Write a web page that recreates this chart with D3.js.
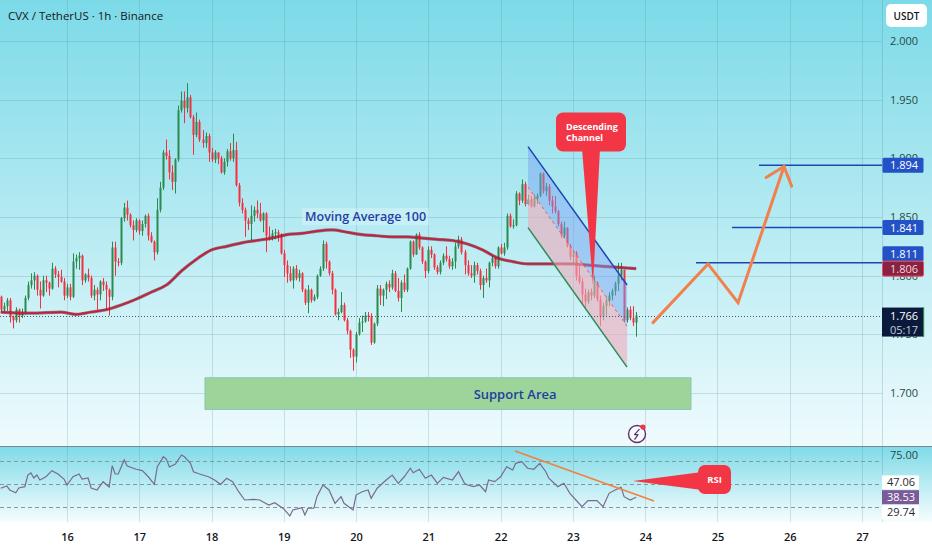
<!DOCTYPE html>
<html>
<head>
<meta charset="utf-8">
<title>CVX / TetherUS 1h</title>
<script src="https://cdn.jsdelivr.net/npm/d3@7/dist/d3.min.js"></script>
<style>
    html, body { margin: 0; padding: 0; background: #ffffff; }
    #chart { display: block; font-family: "Open Sans", Roboto, sans-serif; }
</style>
</head>
<body>
<svg id="chart" width="932" height="550"></svg>
<script>
'use strict';

// ---- values ----

// hourly candles, the first one starts on the 15th at 02:00, each opens at the previous close
const startDay = 15;
const startHour = 2;
const firstOpen = 1.782;

const closes = [
    1.771, 1.774, 1.779, 1.765, 1.762, 1.771, 1.766, 1.769, 1.781, 1.792,
    1.796, 1.800, 1.788, 1.783, 1.796, 1.794, 1.789, 1.806, 1.801, 1.799,
    1.795, 1.783, 1.790, 1.782, 1.812, 1.815, 1.817, 1.796, 1.801, 1.798,
    1.783, 1.788, 1.784, 1.795, 1.792, 1.788, 1.782, 1.824, 1.812, 1.811,
    1.849, 1.858, 1.852, 1.843, 1.839, 1.847, 1.838, 1.844, 1.851, 1.834,
    1.829, 1.820, 1.856, 1.875, 1.905, 1.902, 1.888, 1.880, 1.899, 1.941,
    1.949, 1.943, 1.952, 1.935, 1.920, 1.931, 1.916, 1.913, 1.919, 1.905,
    1.899, 1.905, 1.900, 1.888, 1.897, 1.906, 1.900, 1.907, 1.877, 1.862,
    1.856, 1.847, 1.844, 1.851, 1.856, 1.853, 1.847, 1.853, 1.834, 1.833,
    1.836, 1.837, 1.835, 1.819, 1.809, 1.802, 1.796, 1.806, 1.798, 1.802,
    1.788, 1.777, 1.788, 1.779, 1.782, 1.800, 1.806, 1.827, 1.812, 1.802,
    1.788, 1.767, 1.769, 1.775, 1.762, 1.753, 1.737, 1.731, 1.750, 1.760,
    1.761, 1.766, 1.765, 1.743, 1.759, 1.789, 1.783, 1.788, 1.793, 1.790,
    1.802, 1.787, 1.781, 1.794, 1.788, 1.806, 1.829, 1.818, 1.835, 1.824,
    1.812, 1.804, 1.822, 1.818, 1.807, 1.803, 1.811, 1.817, 1.814, 1.808,
    1.812, 1.825, 1.831, 1.820, 1.809, 1.802, 1.800, 1.809, 1.804, 1.792,
    1.798, 1.796, 1.811, 1.815, 1.808, 1.824, 1.819, 1.824, 1.851, 1.842,
    1.843, 1.870, 1.864, 1.878, 1.861, 1.865, 1.859, 1.866, 1.868, 1.887,
    1.872, 1.876, 1.864, 1.859, 1.855, 1.844, 1.834, 1.841, 1.825, 1.816,
    1.819, 1.800, 1.795, 1.784, 1.778, 1.786, 1.783, 1.794, 1.780, 1.765,
    1.774, 1.779, 1.783, 1.787, 1.793, 1.800, 1.805, 1.762, 1.771, 1.764,
    1.760, 1.766
];

const highs = [
    1.783, 1.777, 1.781, 1.781, 1.766, 1.773, 1.772, 1.772, 1.783, 1.795,
    1.802, 1.803, 1.801, 1.795, 1.800, 1.800, 1.795, 1.811, 1.808, 1.804,
    1.805, 1.798, 1.793, 1.793, 1.819, 1.818, 1.820, 1.818, 1.802, 1.806,
    1.800, 1.792, 1.790, 1.796, 1.798, 1.795, 1.789, 1.829, 1.829, 1.815,
    1.850, 1.862, 1.864, 1.853, 1.847, 1.849, 1.848, 1.847, 1.852, 1.853,
    1.837, 1.830, 1.866, 1.880, 1.907, 1.916, 1.907, 1.894, 1.900, 1.945,
    1.957, 1.957, 1.964, 1.954, 1.937, 1.939, 1.933, 1.924, 1.922, 1.921,
    1.909, 1.907, 1.905, 1.902, 1.900, 1.908, 1.913, 1.921, 1.914, 1.879,
    1.866, 1.858, 1.849, 1.860, 1.859, 1.864, 1.862, 1.854, 1.854, 1.842,
    1.839, 1.840, 1.839, 1.836, 1.822, 1.813, 1.808, 1.808, 1.809, 1.805,
    1.803, 1.789, 1.792, 1.789, 1.784, 1.801, 1.808, 1.830, 1.829, 1.813,
    1.804, 1.789, 1.772, 1.786, 1.777, 1.764, 1.754, 1.738, 1.752, 1.764,
    1.766, 1.769, 1.769, 1.768, 1.760, 1.792, 1.792, 1.789, 1.795, 1.796,
    1.805, 1.804, 1.798, 1.796, 1.801, 1.807, 1.830, 1.830, 1.836, 1.837,
    1.825, 1.813, 1.825, 1.825, 1.819, 1.809, 1.813, 1.819, 1.825, 1.817,
    1.815, 1.828, 1.834, 1.833, 1.822, 1.813, 1.809, 1.812, 1.811, 1.806,
    1.800, 1.806, 1.812, 1.818, 1.817, 1.825, 1.827, 1.828, 1.853, 1.853,
    1.848, 1.872, 1.871, 1.882, 1.880, 1.869, 1.868, 1.869, 1.870, 1.888,
    1.888, 1.879, 1.878, 1.868, 1.868, 1.856, 1.846, 1.846, 1.841, 1.827,
    1.822, 1.821, 1.809, 1.798, 1.789, 1.788, 1.789, 1.800, 1.795, 1.783,
    1.777, 1.782, 1.786, 1.789, 1.795, 1.811, 1.811, 1.805, 1.773, 1.774,
    1.774, 1.769
];

const lows = [
    1.769, 1.769, 1.770, 1.760, 1.755, 1.760, 1.760, 1.764, 1.767, 1.779,
    1.789, 1.788, 1.783, 1.772, 1.782, 1.786, 1.783, 1.788, 1.798, 1.790,
    1.794, 1.779, 1.781, 1.779, 1.781, 1.806, 1.805, 1.792, 1.794, 1.795,
    1.781, 1.779, 1.771, 1.779, 1.787, 1.771, 1.766, 1.779, 1.800, 1.808,
    1.809, 1.846, 1.847, 1.841, 1.830, 1.837, 1.835, 1.834, 1.841, 1.830,
    1.828, 1.813, 1.818, 1.854, 1.873, 1.899, 1.882, 1.873, 1.870, 1.897,
    1.939, 1.930, 1.939, 1.934, 1.903, 1.918, 1.914, 1.909, 1.909, 1.897,
    1.897, 1.896, 1.895, 1.887, 1.886, 1.893, 1.898, 1.897, 1.876, 1.859,
    1.853, 1.833, 1.839, 1.830, 1.846, 1.849, 1.846, 1.837, 1.820, 1.830,
    1.830, 1.831, 1.829, 1.818, 1.799, 1.794, 1.795, 1.789, 1.796, 1.795,
    1.786, 1.775, 1.768, 1.777, 1.778, 1.780, 1.799, 1.804, 1.806, 1.800,
    1.784, 1.766, 1.762, 1.768, 1.761, 1.750, 1.730, 1.719, 1.726, 1.749,
    1.752, 1.760, 1.761, 1.741, 1.742, 1.757, 1.775, 1.774, 1.780, 1.786,
    1.788, 1.786, 1.778, 1.769, 1.786, 1.786, 1.805, 1.816, 1.818, 1.822,
    1.810, 1.798, 1.802, 1.815, 1.805, 1.801, 1.801, 1.809, 1.812, 1.806,
    1.805, 1.806, 1.823, 1.818, 1.801, 1.800, 1.798, 1.794, 1.801, 1.788,
    1.781, 1.794, 1.790, 1.808, 1.806, 1.806, 1.818, 1.817, 1.822, 1.841,
    1.840, 1.842, 1.860, 1.862, 1.859, 1.860, 1.858, 1.858, 1.861, 1.867,
    1.870, 1.868, 1.860, 1.853, 1.853, 1.842, 1.832, 1.832, 1.824, 1.813,
    1.811, 1.796, 1.793, 1.775, 1.772, 1.776, 1.779, 1.781, 1.778, 1.757,
    1.762, 1.766, 1.774, 1.779, 1.783, 1.787, 1.796, 1.760, 1.760, 1.762,
    1.757, 1.748
];

// moving average 100, read at these candle indexes
const maIdx = [0, 10, 20, 25, 30, 35, 40, 45, 50, 55, 60, 65, 70, 75, 80, 85, 90, 95, 100, 105,
    110, 115, 120, 125, 130, 135, 140, 145, 150, 155, 160, 165, 170, 175, 180, 185, 190, 195, 200, 205, 211];
const maVal = [1.769, 1.768, 1.769, 1.767, 1.769, 1.771, 1.775, 1.780, 1.786, 1.792, 1.804, 1.814, 1.822, 1.825,
    1.828, 1.830, 1.832, 1.835, 1.836, 1.838, 1.839, 1.837, 1.835, 1.834, 1.833, 1.833, 1.832, 1.831, 1.830,
    1.827, 1.822, 1.815, 1.812, 1.810, 1.810, 1.810, 1.810, 1.809, 1.808, 1.807, 1.806];

// RSI, read at these candle indexes
const rsiIdx = [0, 2, 3, 5, 6, 8, 9, 10, 11, 12, 13, 15, 17, 19, 21, 22, 24, 26, 27, 29,
    30, 32, 34, 36, 37, 38, 39, 41, 42, 45, 47, 49, 51, 52, 54, 55, 56, 58, 60, 61,
    63, 64, 66, 69, 71, 73, 75, 77, 79, 81, 84, 86, 89, 91, 94, 96, 97, 100, 101, 102,
    104, 105, 107, 109, 111, 113, 114, 117, 118, 120, 122, 123, 125, 128, 130, 132, 134, 136, 137, 139,
    141, 143, 145, 147, 150, 152, 154, 155, 157, 159, 161, 162, 164, 166, 168, 170, 171, 173, 175, 177,
    179, 181, 182, 185, 187, 189, 191, 193, 195, 198, 200, 202, 204, 206, 207, 209, 211];
const rsiVal = [46.3, 48.3, 44.8, 42.4, 46.5, 47.7, 57.8, 59.6, 55.2, 57.8, 53.5, 56.3, 61.6, 58.7, 54.3, 49.1, 56.3, 58.7, 54.3, 55.2,
    46.5, 44.8, 52.0, 47.4, 65.9, 58.7, 58.7, 70.9, 65.7, 62.8, 61.6, 56.3, 49.7, 65.0, 73.7, 71.7, 64.8, 67.4, 75.2, 73.7,
    68.0, 60.7, 58.7, 56.3, 53.5, 49.7, 55.0, 52.0, 43.3, 36.1, 36.7, 36.1, 31.7, 33.7, 28.3, 22.2, 27.4, 29.4, 23.0, 28.9,
    28.9, 39.0, 49.1, 44.8, 33.2, 39.0, 33.2, 27.4, 40.4, 43.3, 44.8, 37.6, 46.3, 53.5, 57.8, 50.6, 56.3, 63.7, 59.8, 62.8,
    55.0, 57.8, 50.6, 55.8, 53.5, 60.7, 50.6, 49.1, 47.7, 49.1, 43.3, 53.5, 52.0, 56.3, 65.0, 62.2, 68.0, 69.4, 63.7, 62.8,
    68.0, 60.7, 55.0, 47.7, 50.6, 41.9, 36.1, 30.3, 35.5, 35.5, 30.3, 41.9, 44.8, 47.1, 39.0, 36.1, 38.53];

// axis ticks
const days = [16, 17, 18, 19, 20, 21, 22, 23, 24, 25, 26, 27];
const priceTicks = [1.700, 1.750, 1.800, 1.850, 1.900, 1.950, 2.000];
const rsiTicks = [75];
const rsiLevels = [30, 50, 70];

// drawings (day of month, price)
const lastPrice = 1.766;
const countdown = '05:17';
const targetLevels = [1.894, 1.841, 1.811];
const targetStartDays = [25.575, 25.201, 24.703];
const pathDays = [24.108, 24.869, 25.285, 25.921];
const pathPrices = [1.760, 1.810, 1.777, 1.893];
const channelDays = [22.379, 23.749];
const channelUpper = [1.910, 1.792];
const channelLower = [1.841, 1.722];
const supportDays = [17.909, 24.634];
const supportPrices = [1.686, 1.713];
const rsiTrendDays = [22.199, 24.122];
const rsiTrendVals = [78.7, 35.2];
const rsiSideValues = [47.06, 38.53, 29.74];

(function() {
    const svg = d3.select('#chart');

    const W = 932, H = 550;
    const plotRight = 882;
    const mainBottom = 446, rsiTop = 447, rsiBottom = 522;

    const upColor = '#2b8a4e', downColor = '#f2303f';
    const gridColor = 'rgba(80, 130, 145, 0.22)';
    const axisText = '#2a4a3f';

    const x = d3.scaleLinear().domain([16, 27]).range([67, 862]);
    const y = d3.scaleLinear().domain([1.7, 2.0]).range([393, 41]);
    const yRsi = d3.scaleLinear().domain([30, 70]).range([507, 461]);
    const fmt3 = d3.format('.3f');
    const fmt2 = d3.format('.2f');

    // time of candle i as a fractional day of month
    function dayOf(i) {
        return startDay + (startHour + i) / 24;
    }

    const candles = closes.map(function(c, i) {
        const o = i === 0 ? firstOpen : closes[i - 1];
        return { t: dayOf(i), o: o, c: c, h: Math.max(highs[i], o, c), l: Math.min(lows[i], o, c) };
    });

    // ---- backgrounds ----
    const defs = svg.append('defs');
    addGradient('mainGrad', 0, mainBottom, '#7cdae8', '#effbfd');
    addGradient('rsiGrad', rsiTop, rsiBottom, '#7fdbe8', '#f6fdfe');

    defs.append('clipPath').attr('id', 'mainClip')
        .append('rect').attr('x', 0).attr('y', 0).attr('width', plotRight).attr('height', mainBottom);
    defs.append('clipPath').attr('id', 'rsiClip')
        .append('rect').attr('x', 0).attr('y', rsiTop).attr('width', plotRight).attr('height', rsiBottom - rsiTop);

    svg.append('rect').attr('width', W).attr('height', H).attr('fill', '#ffffff');
    svg.append('rect').attr('width', W).attr('height', mainBottom).attr('fill', 'url(#mainGrad)');
    svg.append('rect').attr('y', rsiTop).attr('width', W).attr('height', rsiBottom - rsiTop).attr('fill', 'url(#rsiGrad)');

    // ---- grid ----
    const grid = svg.append('g');
    grid.selectAll('line.v').data(days).enter().append('line')
        .attr('x1', d => Math.round(x(d)) + 0.5).attr('x2', d => Math.round(x(d)) + 0.5)
        .attr('y1', 0).attr('y2', rsiBottom)
        .attr('stroke', gridColor);
    grid.selectAll('line.h').data(priceTicks).enter().append('line')
        .attr('x1', 0).attr('x2', plotRight)
        .attr('y1', d => Math.round(y(d)) + 0.5).attr('y2', d => Math.round(y(d)) + 0.5)
        .attr('stroke', gridColor);

    const main = svg.append('g').attr('clip-path', 'url(#mainClip)');

    // ---- support area ----
    const sx0 = x(supportDays[0]), sx1 = x(supportDays[1]);
    const sy0 = y(supportPrices[1]), sy1 = y(supportPrices[0]);
    main.append('rect')
        .attr('x', sx0).attr('y', sy0).attr('width', sx1 - sx0).attr('height', sy1 - sy0)
        .attr('fill', '#9dd49a').attr('stroke', '#8bc5b6').attr('stroke-width', 1);
    main.append('text')
        .attr('x', x(22.2)).attr('y', (sy0 + sy1) / 2 + 5)
        .attr('text-anchor', 'middle')
        .attr('font-size', '13px').attr('font-weight', 600)
        .attr('fill', '#1f3f9e')
        .text('Support Area');

    // ---- candles ----
    const gCandles = main.append('g');
    gCandles.selectAll('line').data(candles).enter().append('line')
        .attr('x1', d => Math.round(x(d.t)) + 0.5).attr('x2', d => Math.round(x(d.t)) + 0.5)
        .attr('y1', d => y(d.h)).attr('y2', d => y(d.l))
        .attr('stroke', d => d.c >= d.o ? upColor : downColor)
        .attr('stroke-width', 1);
    gCandles.selectAll('rect').data(candles).enter().append('rect')
        .attr('x', d => Math.round(x(d.t)) - 0.5)
        .attr('width', 2)
        .attr('y', d => y(Math.max(d.o, d.c)))
        .attr('height', d => Math.max(1, Math.abs(y(d.o) - y(d.c))))
        .attr('fill', d => d.c >= d.o ? upColor : downColor);

    // ---- moving average 100 ----
    const maLine = d3.line()
        .x(d => x(dayOf(d[0])))
        .y(d => y(d[1]))
        .curve(d3.curveMonotoneX);
    main.append('path')
        .datum(maIdx.map((k, j) => [k, maVal[j]]))
        .attr('d', maLine)
        .attr('fill', 'none')
        .attr('stroke', '#5a1024').attr('stroke-width', 3.2).attr('stroke-opacity', 0.55);
    main.append('path')
        .datum(maIdx.map((k, j) => [k, maVal[j]]))
        .attr('d', maLine)
        .attr('fill', 'none')
        .attr('stroke', '#c4203c').attr('stroke-width', 1.8);

    // label "Moving Average 100"
    const maLabelX = x(19.252), maLabelY = y(1.8576);
    const maBox = main.append('rect')
        .attr('x', maLabelX).attr('y', maLabelY).attr('height', 17)
        .attr('fill', 'rgba(235, 248, 252, 0.35)');
    const maText = main.append('text')
        .attr('x', maLabelX + 3).attr('y', maLabelY + 13)
        .attr('font-size', '12.5px').attr('font-weight', 600)
        .attr('fill', '#1f3fa6')
        .text('Moving Average 100');
    maBox.attr('width', maText.node().getComputedTextLength() + 6);

    // ---- descending channel ----
    const cx0 = x(channelDays[0]), cx1 = x(channelDays[1]);
    const up0 = y(channelUpper[0]), up1 = y(channelUpper[1]);
    const lo0 = y(channelLower[0]), lo1 = y(channelLower[1]);
    const mid0 = (up0 + lo0) / 2, mid1 = (up1 + lo1) / 2;
    main.append('polygon')
        .attr('points', [[cx0, up0], [cx1, up1], [cx1, mid1], [cx0, mid0]].join(' '))
        .attr('fill', 'rgba(120, 160, 245, 0.45)');
    main.append('polygon')
        .attr('points', [[cx0, mid0], [cx1, mid1], [cx1, lo1], [cx0, lo0]].join(' '))
        .attr('fill', 'rgba(240, 170, 186, 0.6)');
    main.append('line')
        .attr('x1', cx0).attr('y1', mid0).attr('x2', cx1).attr('y2', mid1)
        .attr('stroke', '#e5604e').attr('stroke-width', 1).attr('stroke-dasharray', '3,3');
    main.append('line')
        .attr('x1', cx0).attr('y1', up0).attr('x2', cx1).attr('y2', up1)
        .attr('stroke', '#1c44b4').attr('stroke-width', 1.5);
    main.append('line')
        .attr('x1', cx0).attr('y1', lo0).attr('x2', cx1).attr('y2', lo1)
        .attr('stroke', '#2f8a55').attr('stroke-width', 1.5);

    // ---- last price line ----
    main.append('line')
        .attr('x1', 0).attr('x2', plotRight)
        .attr('y1', Math.round(y(lastPrice)) + 0.5).attr('y2', Math.round(y(lastPrice)) + 0.5)
        .attr('stroke', '#4b5866').attr('stroke-width', 1).attr('stroke-dasharray', '1,2');

    // ---- target levels ----
    main.selectAll('line.target').data(targetLevels).enter().append('line')
        .attr('x1', (d, i) => x(targetStartDays[i])).attr('x2', plotRight)
        .attr('y1', d => y(d)).attr('y2', d => y(d))
        .attr('stroke', '#1f47b2').attr('stroke-width', 1.5);

    // ---- projected path with arrow head ----
    const pathPts = pathDays.map((d, i) => [x(d), y(pathPrices[i])]);
    main.append('path')
        .attr('d', d3.line()(pathPts))
        .attr('fill', 'none')
        .attr('stroke', '#f2804c').attr('stroke-width', 3)
        .attr('stroke-linejoin', 'miter').attr('stroke-linecap', 'round');
    const tip = pathPts[pathPts.length - 1], prev = pathPts[pathPts.length - 2];
    const back = Math.atan2(prev[1] - tip[1], prev[0] - tip[0]);
    const headLen = 21, headAng = 40 * Math.PI / 180;
    const head = [
        [tip[0] + headLen * Math.cos(back - headAng), tip[1] + headLen * Math.sin(back - headAng)],
        tip,
        [tip[0] + headLen * Math.cos(back + headAng), tip[1] + headLen * Math.sin(back + headAng)]
    ];
    main.append('path')
        .attr('d', d3.line()(head))
        .attr('fill', 'none')
        .attr('stroke', '#f2804c').attr('stroke-width', 3).attr('stroke-linecap', 'round');

    // ---- "Descending Channel" callout ----
    const dbx = x(22.766), dby = y(1.939), dbw = 70, dbh = 39;
    const dTip = [x(23.278), y(1.792)];
    main.append('polygon')
        .attr('points', [[dbx + 26, dby + dbh - 3], [dbx + 44, dby + dbh - 3], dTip].join(' '))
        .attr('fill', '#f23645');
    main.append('rect')
        .attr('x', dbx).attr('y', dby).attr('width', dbw).attr('height', dbh).attr('rx', 7)
        .attr('fill', '#f23645');
    main.append('text')
        .attr('x', dbx + 10).attr('y', dby + 17.5)
        .attr('font-size', '9px').attr('font-weight', 700).attr('fill', '#ffffff')
        .text('Descending');
    main.append('text')
        .attr('x', dbx + 10).attr('y', dby + 28)
        .attr('font-size', '9px').attr('font-weight', 700).attr('fill', '#ffffff')
        .text('Channel');

    // ---- lightning icon ----
    const lx = x(23.887), ly = y(1.665);
    main.append('circle')
        .attr('cx', lx).attr('cy', ly).attr('r', 8.5)
        .attr('fill', 'rgba(255,255,255,0.35)').attr('stroke', '#6a2d6c').attr('stroke-width', 1.4);
    main.append('path')
        .attr('d', 'M' + (lx + 2.5) + ',' + (ly - 5) + 'L' + (lx - 2.5) + ',' + (ly + 0.5) + 'L' + (lx + 1) + ',' + (ly + 0.5) +
            'L' + (lx - 2.5) + ',' + (ly + 5.5))
        .attr('fill', 'none').attr('stroke', '#6a2d6c').attr('stroke-width', 1.2)
        .attr('stroke-linejoin', 'round');
    main.append('circle')
        .attr('cx', lx + 6).attr('cy', ly - 7).attr('r', 2.6)
        .attr('fill', '#f23645');

    // ---- panes separator ----
    svg.append('line')
        .attr('x1', 0).attr('x2', W).attr('y1', mainBottom + 0.5).attr('y2', mainBottom + 0.5)
        .attr('stroke', '#7b8a92').attr('stroke-width', 1);
    svg.append('line')
        .attr('x1', plotRight + 0.5).attr('x2', plotRight + 0.5).attr('y1', 0).attr('y2', rsiBottom)
        .attr('stroke', 'rgba(80, 130, 145, 0.25)');

    // ---- RSI pane ----
    const rsi = svg.append('g').attr('clip-path', 'url(#rsiClip)');
    rsi.selectAll('line.level').data(rsiLevels).enter().append('line')
        .attr('x1', 0).attr('x2', plotRight)
        .attr('y1', d => Math.round(yRsi(d)) + 0.5).attr('y2', d => Math.round(yRsi(d)) + 0.5)
        .attr('stroke', '#8797a0').attr('stroke-width', 1).attr('stroke-dasharray', '4,3');
    rsi.append('path')
        .datum(rsiIdx.map((k, j) => [k, rsiVal[j]]))
        .attr('d', d3.line().x(d => x(dayOf(d[0]))).y(d => yRsi(d[1])))
        .attr('fill', 'none')
        .attr('stroke', '#7b6a8f').attr('stroke-width', 1.2);
    rsi.append('line')
        .attr('x1', x(rsiTrendDays[0])).attr('y1', yRsi(rsiTrendVals[0]))
        .attr('x2', x(rsiTrendDays[1])).attr('y2', yRsi(rsiTrendVals[1]))
        .attr('stroke', '#f2803e').attr('stroke-width', 1.6);

    // "RSI" callout
    const rbx = x(24.731), rby = yRsi(66.5), rbw = 33, rbh = 29;
    const rTip = [x(23.832), yRsi(52.6)];
    rsi.append('polygon')
        .attr('points', [[rbx + 4, rby + 7], [rbx + 4, rby + 25], rTip].join(' '))
        .attr('fill', '#f23645');
    rsi.append('rect')
        .attr('x', rbx).attr('y', rby).attr('width', rbw).attr('height', rbh).attr('rx', 7)
        .attr('fill', '#f23645');
    rsi.append('text')
        .attr('x', rbx + rbw / 2).attr('y', rby + rbh / 2 + 3.5)
        .attr('text-anchor', 'middle')
        .attr('font-size', '9.5px').attr('font-weight', 700).attr('fill', '#ffffff')
        .text('RSI');

    // ---- price axis ----
    const priceAxis = svg.append('g')
        .attr('transform', 'translate(' + plotRight + ',0)')
        .call(d3.axisRight(y).tickValues(priceTicks).tickFormat(fmt3).tickSize(0).tickPadding(8));
    styleAxis(priceAxis, axisText, 400);

    const priceTags = [
        { v: targetLevels[0], nudge: 0, fill: '#2352c6', stroke: 'none', color: '#ffffff' },
        { v: targetLevels[1], nudge: 0, fill: '#2352c6', stroke: 'none', color: '#ffffff' },
        { v: targetLevels[2], nudge: -9, fill: '#2352c6', stroke: 'none', color: '#ffffff' },
        { v: maVal[maVal.length - 1], nudge: 0, fill: '#8a2342', stroke: '#ee4964', color: '#f7d6dd' }
    ];
    priceTags.forEach(function(tag) {
        const cy = y(tag.v) + tag.nudge;
        svg.append('rect')
            .attr('x', plotRight + 0.5).attr('y', cy - 7.5).attr('width', 41).attr('height', 15).attr('rx', 1.5)
            .attr('fill', tag.fill).attr('stroke', tag.stroke);
        svg.append('text')
            .attr('x', plotRight + 8).attr('y', cy + 4)
            .attr('font-size', '11px').attr('fill', tag.color)
            .text(fmt3(tag.v));
    });

    // last price tag with countdown
    const ly0 = y(lastPrice);
    svg.append('rect')
        .attr('x', plotRight).attr('y', ly0 - 8).attr('width', 42).attr('height', 29)
        .attr('fill', '#0b1a3c');
    svg.append('rect')
        .attr('x', plotRight + 41).attr('y', ly0 - 8).attr('width', 1.2).attr('height', 29)
        .attr('fill', '#2b8a4e');
    svg.append('text')
        .attr('x', plotRight + 8).attr('y', ly0 + 4)
        .attr('font-size', '11px').attr('fill', '#ffffff')
        .text(fmt3(lastPrice));
    svg.append('text')
        .attr('x', plotRight + 8).attr('y', ly0 + 18)
        .attr('font-size', '11px').attr('fill', '#c6ccd8')
        .text(countdown);

    // ---- RSI axis ----
    const rsiAxis = svg.append('g')
        .attr('transform', 'translate(' + plotRight + ',0)')
        .call(d3.axisRight(yRsi).tickValues(rsiTicks).tickFormat(fmt2).tickSize(0).tickPadding(8));
    styleAxis(rsiAxis, axisText, 400);

    const rsiTags = [
        { v: rsiSideValues[0], nudge: -5, fill: '#ffffff', color: '#1f2a30' },
        { v: rsiSideValues[1], nudge: 0, fill: '#7a5b98', color: '#ffffff' },
        { v: rsiSideValues[2], nudge: 5, fill: '#ffffff', color: '#1f2a30' }
    ];
    rsiTags.forEach(function(tag) {
        const cy = yRsi(tag.v) + tag.nudge;
        svg.append('rect')
            .attr('x', plotRight).attr('y', cy - 7).attr('width', 37).attr('height', 14)
            .attr('fill', tag.fill);
        svg.append('text')
            .attr('x', plotRight + 5).attr('y', cy + 4)
            .attr('font-size', '11px').attr('fill', tag.color)
            .text(fmt2(tag.v));
    });

    // ---- time axis ----
    const timeAxis = svg.append('g')
        .attr('transform', 'translate(0,' + rsiBottom + ')')
        .call(d3.axisBottom(x).tickValues(days).tickFormat(d3.format('d')).tickSize(0).tickPadding(11));
    styleAxis(timeAxis, '#131722', 600);

    // ---- title and currency box ----
    svg.append('text')
        .attr('x', 8).attr('y', 20)
        .attr('font-size', '11.5px').attr('fill', '#131722')
        .text('CVX / TetherUS · 1h · Binance');
    svg.append('rect')
        .attr('x', 886).attr('y', 4).attr('width', 41).attr('height', 23).attr('rx', 5)
        .attr('fill', '#ffffff');
    svg.append('text')
        .attr('x', 906.5).attr('y', 19.5)
        .attr('text-anchor', 'middle')
        .attr('font-size', '10px').attr('font-weight', 600).attr('fill', '#131722')
        .text('USDT');

    function addGradient(id, y1, y2, top, bottom) {
        const g = defs.append('linearGradient')
            .attr('id', id)
            .attr('gradientUnits', 'userSpaceOnUse')
            .attr('x1', 0).attr('x2', 0).attr('y1', y1).attr('y2', y2);
        g.append('stop').attr('offset', 0).attr('stop-color', top);
        g.append('stop').attr('offset', 1).attr('stop-color', bottom);
    }

    function styleAxis(g, color, weight) {
        g.select('.domain').remove();
        g.selectAll('text')
            .attr('font-family', '"Open Sans", Roboto, sans-serif')
            .attr('font-size', '11px')
            .attr('font-weight', weight)
            .attr('fill', color);
    }
})();
</script>
</body>
</html>
